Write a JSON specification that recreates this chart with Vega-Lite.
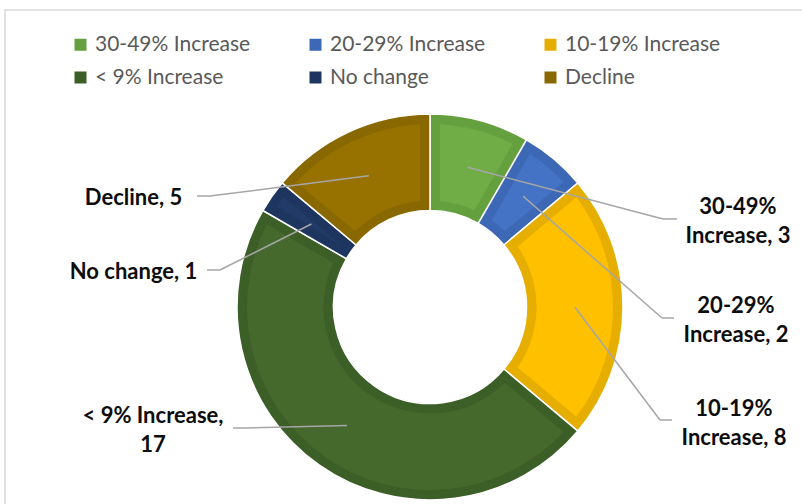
{
  "$schema": "https://vega.github.io/schema/vega-lite/v6.json",
  "width": 850,
  "height": 594,
  "autosize": {"type": "none"},
  "padding": {"left": 5, "top": 10, "right": 0, "bottom": 0},
  "background": "white",
  "config": {
    "view": {"stroke": "#D9D9D9", "strokeWidth": 1.5},
    "font": "Lato"
  },
  "datasets": {
    "slices": [
      {"category": "30-49% Increase", "value": 3, "rank": 1},
      {"category": "20-29% Increase", "value": 2, "rank": 2},
      {"category": "10-19% Increase", "value": 8, "rank": 3},
      {"category": "< 9% Increase", "value": 17, "rank": 4},
      {"category": "No change", "value": 1, "rank": 5},
      {"category": "Decline", "value": 5, "rank": 6}
    ],
    "labels": [
      {"label": "30-49%\nIncrease, 3", "sx": 0.1941, "sy": 0.7244, "ex": 1.2073, "ey": 0.456, "tx": 1.2798, "lx": 1.5959, "ly": 0.5207},
      {"label": "20-29%\nIncrease, 2", "sx": 0.4821, "sy": 0.5745, "ex": 1.2021, "ey": -0.057, "tx": 1.2642, "lx": 1.5855, "ly": 0.0077},
      {"label": "10-19%\nIncrease, 8", "sx": 0.75, "sy": 0.0, "ex": 1.1917, "ey": -0.5855, "tx": 1.2539, "lx": 1.5751, "ly": -0.5311},
      {"label": "< 9% Increase,\n17", "sx": -0.4302, "sy": -0.6144, "ex": -0.9585, "ey": -0.6269, "tx": -1.0207, "lx": -1.4352, "ly": -0.5622},
      {"label": "No change, 1", "sx": -0.6144, "sy": 0.4302, "ex": -1.0881, "ey": 0.1917, "tx": -1.1554, "lx": -1.5363, "ly": 0.1813},
      {"label": "Decline, 5", "sx": -0.317, "sy": 0.6797, "ex": -1.1399, "ey": 0.5751, "tx": -1.2073, "lx": -1.5363, "ly": 0.5648}
    ]
  },
  "layer": [
    {
      "data": {"name": "slices"},
      "mark": {"type": "arc", "outerRadius": 193, "innerRadius": 96.5, "stroke": "white", "strokeWidth": 1.5},
      "encoding": {
        "theta": {"field": "value", "type": "quantitative", "stack": true},
        "order": {"field": "rank", "type": "quantitative"},
        "color": {
          "field": "category",
          "type": "nominal",
          "sort": ["30-49% Increase", "20-29% Increase", "10-19% Increase", "< 9% Increase", "No change", "Decline"],
          "scale": {
            "domain": ["30-49% Increase", "20-29% Increase", "10-19% Increase", "< 9% Increase", "No change", "Decline"],
            "range": ["#64A03E", "#3D68B6", "#E6AE00", "#3C5E27", "#1E365F", "#8A6800"]
          },
          "legend": {
            "title": null,
            "orient": "none",
            "direction": "horizontal",
            "legendX": 65,
            "legendY": 24,
            "columns": 3,
            "gridAlign": "all",
            "columnPadding": 54,
            "rowPadding": 11,
            "symbolType": "square",
            "symbolSize": 144,
            "symbolStrokeWidth": 0,
            "labelOffset": 4,
            "labelFont": "Lato",
            "labelFontSize": 21,
            "labelColor": "#595959",
            "labelLimit": 300
          }
        }
      }
    },
    {
      "data": {"name": "slices"},
      "mark": {"type": "arc", "outerRadius": 183, "innerRadius": 106.5, "padAngle": 0.0946},
      "encoding": {
        "theta": {"field": "value", "type": "quantitative", "stack": true},
        "order": {"field": "rank", "type": "quantitative"},
        "color": {
          "field": "category",
          "type": "nominal",
          "scale": {
            "domain": ["30-49% Increase", "20-29% Increase", "10-19% Increase", "< 9% Increase", "No change", "Decline"],
            "range": ["#70AD47", "#4472C4", "#FFC000", "#45692C", "#213A68", "#977200"]
          },
          "legend": null
        }
      }
    },
    {
      "data": {"name": "labels"},
      "mark": {"type": "rule", "stroke": "#A6A6A6", "strokeWidth": 1.5},
      "encoding": {
        "x": {"field": "sx", "type": "quantitative", "scale": {"domain": [-2.2021, 2.2021]}, "axis": null},
        "y": {"field": "sy", "type": "quantitative", "scale": {"domain": [-1.5389, 1.5389]}, "axis": null},
        "x2": {"field": "ex"},
        "y2": {"field": "ey"}
      }
    },
    {
      "data": {"name": "labels"},
      "mark": {"type": "rule", "stroke": "#A6A6A6", "strokeWidth": 1.5},
      "encoding": {
        "x": {"field": "ex", "type": "quantitative", "scale": {"domain": [-2.2021, 2.2021]}, "axis": null},
        "y": {"field": "ey", "type": "quantitative", "scale": {"domain": [-1.5389, 1.5389]}, "axis": null},
        "x2": {"field": "tx"}
      }
    },
    {
      "data": {"name": "labels"},
      "mark": {"type": "text", "font": "Lato", "fontSize": 22, "fontWeight": "bold", "color": "#0D0D0D", "align": "center", "baseline": "middle", "lineBreak": "\n", "lineHeight": 29},
      "encoding": {
        "x": {"field": "lx", "type": "quantitative", "scale": {"domain": [-2.2021, 2.2021]}, "axis": null},
        "y": {"field": "ly", "type": "quantitative", "scale": {"domain": [-1.5389, 1.5389]}, "axis": null},
        "text": {"field": "label", "type": "nominal"}
      }
    }
  ],
  "resolve": {"scale": {"color": "independent"}}
}
